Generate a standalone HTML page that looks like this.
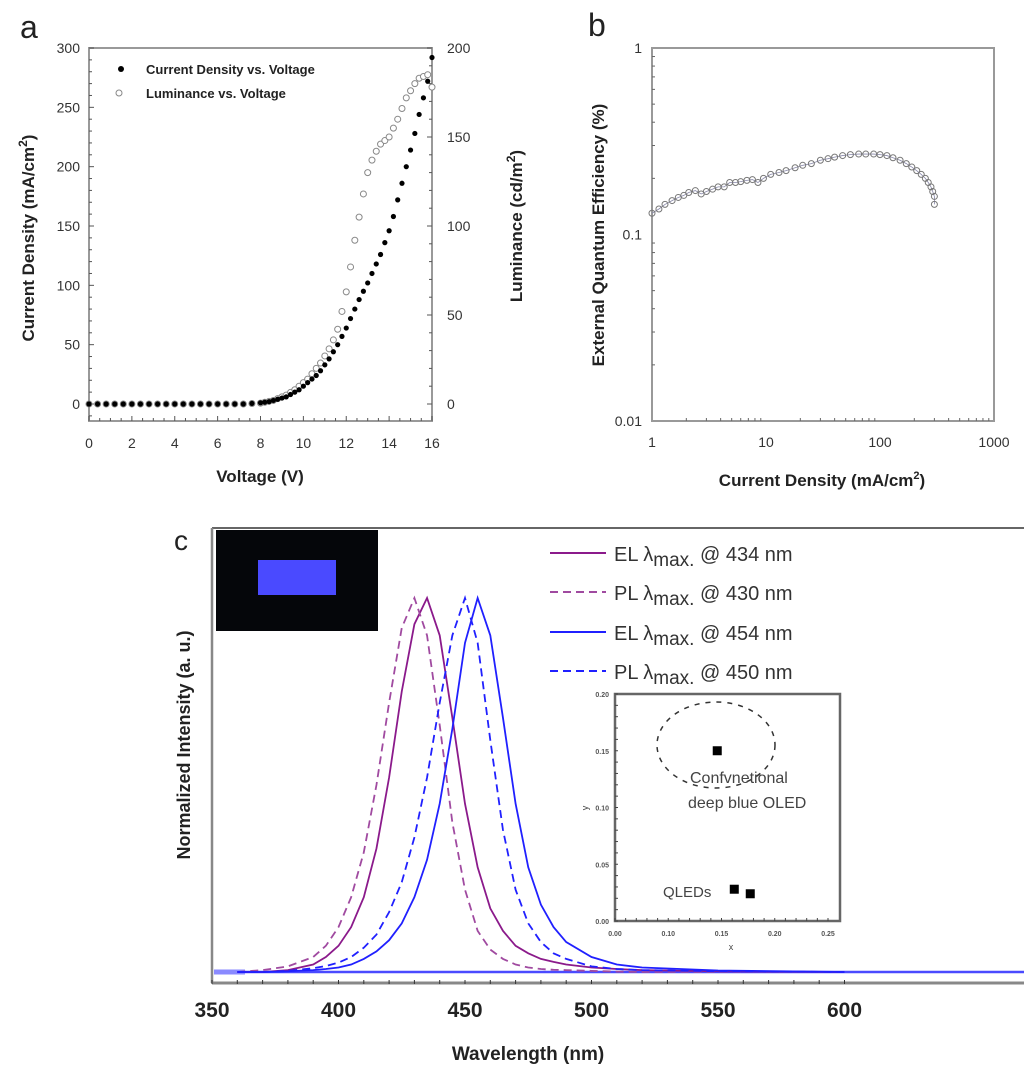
<!DOCTYPE html>
<html><head><meta charset="utf-8"><style>
body{margin:0;background:#fff;}
svg{display:block;font-family:"Liberation Sans",sans-serif;}
</style></head><body>
<svg id="fig" width="1024" height="1085" viewBox="0 0 1024 1085">
<g id="pa"></g>
<g id="pb"></g>
<g id="pc"></g>
</svg>
<script>
// ---------- Panel a data ----------
const voltA = [0,0.4,0.8,1.2,1.6,2,2.4,2.8,3.2,3.6,4,4.4,4.8,5.2,5.6,6,6.4,6.8,7.2,7.6,8,8.2,8.4,8.6,8.8,9,9.2,9.4,9.6,9.8,10,10.2,10.4,10.6,10.8,11,11.2,11.4,11.6,11.8,12,12.2,12.4,12.6,12.8,13,13.2,13.4,13.6,13.8,14,14.2,14.4,14.6,14.8,15,15.2,15.4,15.6,15.8,16];
const currentA = [0,0,0,0,0,0,0,0,0,0,0,0,0,0,0,0,0,0,0,0.5,1,1.5,2,3,4,5,6,8,10,12,15,18,21,24,28,33,38,44,50,57,64,72,80,88,95,102,110,118,126,136,146,158,172,186,200,214,228,244,258,272,292];
const lumA = [0,0,0,0,0,0,0,0,0,0,0,0,0,0,0,0,0,0,0,0.3,0.5,1,1.5,2,3,4,5,6.5,8,10,12,14,17,20,23,27,31,36,42,52,63,77,92,105,118,130,137,142,146,148,150,155,160,166,172,176,180,183,184,185,178];
const xTicksA = [0,2,4,6,8,10,12,14,16];
const yTicksA = [0,50,100,150,200,250,300];
const y2TicksA = [0,50,100,150,200];
// ---------- Panel b data ----------
const jB = [1,1.15,1.3,1.5,1.7,1.9,2.1,2.4,2.7,3,3.4,3.8,4.3,4.8,5.4,6,6.8,7.6,8.5,9.5,11,13,15,18,21,25,30,35,40,47,55,65,75,88,100,115,130,150,170,190,210,230,250,265,280,290,300,300];
const eqeB = [0.13,0.137,0.145,0.152,0.158,0.162,0.168,0.172,0.165,0.17,0.175,0.18,0.18,0.19,0.19,0.192,0.195,0.197,0.19,0.2,0.21,0.215,0.22,0.228,0.235,0.24,0.25,0.255,0.26,0.265,0.268,0.27,0.27,0.27,0.268,0.265,0.258,0.25,0.24,0.23,0.22,0.21,0.2,0.19,0.18,0.17,0.16,0.145];
const xTicksB = [1,10,100,1000];
const yTicksB = [0.01,0.1,1];
// ---------- Panel c data ----------
const wavelengths = [360,370,380,390,395,400,405,410,415,420,425,430,435,440,445,450,455,460,465,470,475,480,485,490,500,510,520,550,600];
const el434 = [0,0,0.005,0.02,0.04,0.07,0.12,0.2,0.33,0.52,0.75,0.93,1.0,0.9,0.68,0.45,0.28,0.17,0.11,0.07,0.05,0.035,0.027,0.02,0.012,0.008,0.005,0.002,0];
const pl430 = [0,0.005,0.015,0.04,0.07,0.12,0.2,0.32,0.5,0.72,0.92,1.0,0.9,0.66,0.4,0.22,0.11,0.06,0.035,0.02,0.012,0.008,0.006,0.005,0.003,0.001,0,0,0];
const el454 = [0,0,0.002,0.005,0.008,0.012,0.02,0.035,0.055,0.085,0.13,0.2,0.3,0.45,0.65,0.88,1.0,0.9,0.68,0.45,0.28,0.18,0.12,0.08,0.04,0.02,0.012,0.004,0];
const pl450 = [0,0,0.003,0.01,0.016,0.025,0.04,0.065,0.1,0.16,0.24,0.36,0.52,0.72,0.9,1.0,0.88,0.62,0.38,0.22,0.13,0.08,0.05,0.035,0.015,0.008,0.005,0.002,0];
const xTicksC = [350,400,450,500,550,600];
const legendLabels = ["434","430","454","450"];
const cieX = [0.146,0.162,0.177];
const cieY = [0.15,0.028,0.024];
const cieXTicks = [0.05,0.10,0.15,0.20,0.25];
const cieYTicks = [0.00,0.05,0.10,0.15,0.20];
const cieTickLabels = ["0.00","0.10","0.15","0.20","0.25"];

const NS="http://www.w3.org/2000/svg";
function mk(parent,tag,attrs,text){const e=document.createElementNS(NS,tag);for(const k in attrs)e.setAttribute(k,attrs[k]);if(text!==undefined)e.textContent=text;parent.appendChild(e);return e;}

// ===== Panel a =====
(function(){
const g=document.getElementById('pa');
const x0=89,x1=432,yTop=48,yZero=404,yBot=421;
const sx=v=>x0+(v-0)/(16-0)*(x1-x0);
const sy=v=>yZero-(v/300)*(yZero-yTop);
const sy2=v=>yZero-(v/200)*(yZero-yTop);
let t=mk(g,'text',{x:20,y:38,'font-size':32,fill:'#222'},'a');

let r=mk(g,'rect',{x:x0,y:yTop,width:x1-x0,height:yBot-yTop,fill:'none',stroke:'#999','stroke-width':2});

for(let v=0;v<=16;v+=0.5){mk(g,'line',{x1:sx(v),x2:sx(v),y1:yBot,y2:yBot-(v%2===0?5:3),stroke:'#555','stroke-width':1});}
for(let v=-10;v<=300;v+=10){if(sy(v)<=yBot){mk(g,'line',{x1:x0,x2:x0+(v%50===0?5:3),y1:sy(v),y2:sy(v),stroke:'#555','stroke-width':1});}}
for(let v=0;v<=200;v+=10){mk(g,'line',{x1:x1,x2:x1-(v%50===0?5:3),y1:sy2(v),y2:sy2(v),stroke:'#555','stroke-width':1});}
xTicksA.forEach(v=>{const e=mk(g,'text',{x:sx(v),y:448,'font-size':14,'text-anchor':'middle',fill:'#333'},String(v));});
yTicksA.forEach(v=>{const e=mk(g,'text',{x:80,y:sy(v)+5,'font-size':14,'text-anchor':'end',fill:'#333'},String(v));});
y2TicksA.forEach(v=>{const e=mk(g,'text',{x:447,y:sy2(v)+5,'font-size':14,'text-anchor':'start',fill:'#333'},String(v));});
voltA.forEach((v,i)=>{const c=mk(g,'circle',{cx:sx(v),cy:sy2(lumA[i]),r:3,fill:'#fff',stroke:'#888','stroke-width':1});});
voltA.forEach((v,i)=>{const c=mk(g,'circle',{cx:sx(v),cy:sy(currentA[i]),r:2.6,fill:'#000'});});
let c=mk(g,'circle',{cx:121,cy:69,r:3,fill:'#000'});
c=mk(g,'circle',{cx:119,cy:93,r:3,fill:'#fff',stroke:'#888'});
t=mk(g,'text',{x:146,y:74,'font-size':13,'font-weight':'bold',fill:'#222'},'Current Density vs. Voltage');
t=mk(g,'text',{x:146,y:98,'font-size':13,'font-weight':'bold',fill:'#222'},'Luminance vs. Voltage');
t=mk(g,'text',{x:260,y:482,'font-size':17,'font-weight':'bold','text-anchor':'middle',fill:'#222'},'Voltage (V)');
t=mk(g,'text',{transform:'translate(34,238) rotate(-90)','font-size':17,'font-weight':'bold','text-anchor':'middle',fill:'#222'});
t.innerHTML='Current Density (mA/cm<tspan dy="-7" font-size="12">2</tspan><tspan dy="7">)</tspan>';
t=mk(g,'text',{transform:'translate(522,226) rotate(-90)','font-size':17,'font-weight':'bold','text-anchor':'middle',fill:'#222'});
t.innerHTML='Luminance (cd/m<tspan dy="-7" font-size="12">2</tspan><tspan dy="7">)</tspan>';
})();

// ===== Panel b =====
(function(){
const g=document.getElementById('pb');
const x0=652,x1=994,y0=48,y1=421;
const sx=v=>x0+(Math.log10(v)-0)/3*(x1-x0);
const sy=v=>y1-(Math.log10(v)+2)/2*(y1-y0);
let t=mk(g,'text',{x:588,y:36,'font-size':32,fill:'#222'},'b');
let r=mk(g,'rect',{x:x0,y:y0,width:x1-x0,height:y1-y0,fill:'none',stroke:'#999','stroke-width':2});
for(let d=0;d<3;d++)for(let m=2;m<=9;m++){const v=Math.pow(10,d)*m;mk(g,'line',{x1:sx(v),x2:sx(v),y1:y1,y2:y1-3,stroke:'#666'});}
for(let d=-2;d<0;d++)for(let m=2;m<=9;m++){const v=Math.pow(10,d)*m;mk(g,'line',{x1:x0,x2:x0+3,y1:sy(v),y2:sy(v),stroke:'#666'});}
xTicksB.forEach(v=>{const e=mk(g,'text',{x:sx(v),y:447,'font-size':14,'text-anchor':'middle',fill:'#333'},String(v));});
yTicksB.forEach(v=>{const e=mk(g,'text',{x:642,y:sy(v)+5,'font-size':14,'text-anchor':'end',fill:'#333'},String(v));});
let pts=jB.map((v,i)=>sx(v)+','+sy(eqeB[i])).join(' ');
let pl=mk(g,'polyline',{points:pts,fill:'none',stroke:'#88a','stroke-width':0.8});
jB.forEach((v,i)=>{const c=mk(g,'circle',{cx:sx(v),cy:sy(eqeB[i]),r:3,fill:'none',stroke:'#777','stroke-width':1});});
t=mk(g,'text',{x:822,y:486,'font-size':17,'font-weight':'bold','text-anchor':'middle',fill:'#222'});
t.innerHTML='Current Density (mA/cm<tspan dy="-7" font-size="11">2</tspan><tspan dy="7">)</tspan>';
t=mk(g,'text',{transform:'translate(604,235) rotate(-90)','font-size':17,'font-weight':'bold','text-anchor':'middle',fill:'#222'},'External Quantum Efficiency (%)');
})();

// ===== Panel c =====
(function(){
const g=document.getElementById('pc');
const x0=212,yTop=528,yAxis=983,yBase=972,yPeak=598;
const sx=v=>x0+(v-350)*2.53;
const sy=v=>yBase-v*(yBase-yPeak);
let t=mk(g,'text',{x:174,y:550,'font-size':28,fill:'#222'},'c');
mk(g,'line',{x1:x0,x2:1024,y1:yTop,y2:yTop,stroke:'#333','stroke-width':1.5});
mk(g,'line',{x1:x0,x2:x0,y1:yTop,y2:yAxis,stroke:'#888','stroke-width':2.5});
let ax=mk(g,'line',{x1:x0,x2:1024,y1:yAxis,y2:yAxis,stroke:'#888','stroke-width':3});
for(let v=350;v<=600;v+=10){mk(g,'line',{x1:sx(v),x2:sx(v),y1:yAxis-3,y2:yAxis+1,stroke:'#333','stroke-width':1});}
xTicksC.forEach(v=>{const e=mk(g,'text',{x:sx(v),y:1017,'font-size':21,'font-weight':'bold','text-anchor':'middle',fill:'#222'},String(v));});
t=mk(g,'text',{x:528,y:1060,'font-size':19,'font-weight':'bold','text-anchor':'middle',fill:'#222'},'Wavelength (nm)');
t=mk(g,'text',{transform:'translate(190,745) rotate(-90)','font-size':18,'font-weight':'bold','text-anchor':'middle',fill:'#222'},'Normalized Intensity (a. u.)');
mk(g,'line',{x1:x0+2,x2:1024,y1:yBase,y2:yBase,stroke:'#4a4aff','stroke-width':2.5});
mk(g,'line',{x1:x0+2,x2:245,y1:yBase,y2:yBase,stroke:'#8a8aff','stroke-width':5});
const series=[[el434,'#8b1a8b',''],[pl430,'#a04aa0','8,5'],[el454,'#2020ff',''],[pl450,'#2020ff','8,5']];
const names=['el-434-curve','pl-430-curve','el-454-curve','pl-450-curve'];
series.forEach((s,k)=>{const pts=wavelengths.map((w,i)=>sx(w)+','+sy(s[0][i])).join(' ');
 const p=mk(g,'polyline',{points:pts,fill:'none',stroke:s[1],'stroke-width':1.8,'stroke-dasharray':s[2]});
 });
const ly=[553,592,632,671];
series.forEach((s,k)=>{mk(g,'line',{x1:550,x2:606,y1:ly[k],y2:ly[k],stroke:s[1],'stroke-width':2,'stroke-dasharray':s[2]});
 const e=mk(g,'text',{x:614,y:ly[k]+8,'font-size':20,fill:'#333'});
 e.innerHTML=(k%2===0?'EL':'PL')+' λ<tspan dy="5" font-size="19">max.</tspan><tspan dy="-5"> @ '+legendLabels[k]+' nm</tspan>';
 });
let ph=mk(g,'rect',{x:216,y:530,width:162,height:101,fill:'#05060a'});
mk(g,'rect',{x:258,y:560,width:78,height:35,fill:'#4a4aff'});
// CIE inset
const cx0=615,cx1=840,cy0=694,cy1=921;
const csx=v=>615+(v-0.05)/0.2*(828-615);
const csy=v=>cy1-v/0.2*(cy1-cy0);
let ib=mk(g,'rect',{x:cx0,y:cy0,width:cx1-cx0,height:cy1-cy0,fill:'#fff',stroke:'#666','stroke-width':2.5});
for(let i=0;i<=20;i++){const xx=615+i*(828-615)/20;mk(g,'line',{x1:xx,x2:xx,y1:cy1,y2:cy1-3,stroke:'#444'});mk(g,'line',{x1:cx0,x2:cx0+3,y1:cy0+i*(cy1-cy0)/20,y2:cy0+i*(cy1-cy0)/20,stroke:'#444'});}
cieXTicks.forEach((v,i)=>{mk(g,'text',{x:csx(v),y:cy1+15,'font-size':7,'font-weight':'bold','text-anchor':'middle',fill:'#555'},cieTickLabels[i]);});
cieYTicks.forEach(v=>{mk(g,'text',{x:cx0-6,y:csy(v)+3,'font-size':7,'font-weight':'bold','text-anchor':'end',fill:'#555'},v.toFixed(2));});
mk(g,'text',{x:731,y:950,'font-size':9,'text-anchor':'middle',fill:'#444'},'x');
mk(g,'text',{transform:'translate(588,808) rotate(-90)','font-size':9,'text-anchor':'middle',fill:'#444'},'y');
let el=mk(g,'ellipse',{cx:716,cy:745,rx:59,ry:43,fill:'none',stroke:'#333','stroke-width':1.5,'stroke-dasharray':'5,6'});
cieX.forEach((v,i)=>{const s=mk(g,'rect',{x:csx(v)-4.5,y:csy(cieY[i])-4.5,width:9,height:9,fill:'#000'});});
mk(g,'text',{x:690,y:783,'font-size':16,fill:'#444'},'Confvnetional');
mk(g,'text',{x:688,y:808,'font-size':16,fill:'#444'},'deep blue OLED');
mk(g,'text',{x:663,y:897,'font-size':15,fill:'#444'},'QLEDs');
})();
</script>
</body></html>
